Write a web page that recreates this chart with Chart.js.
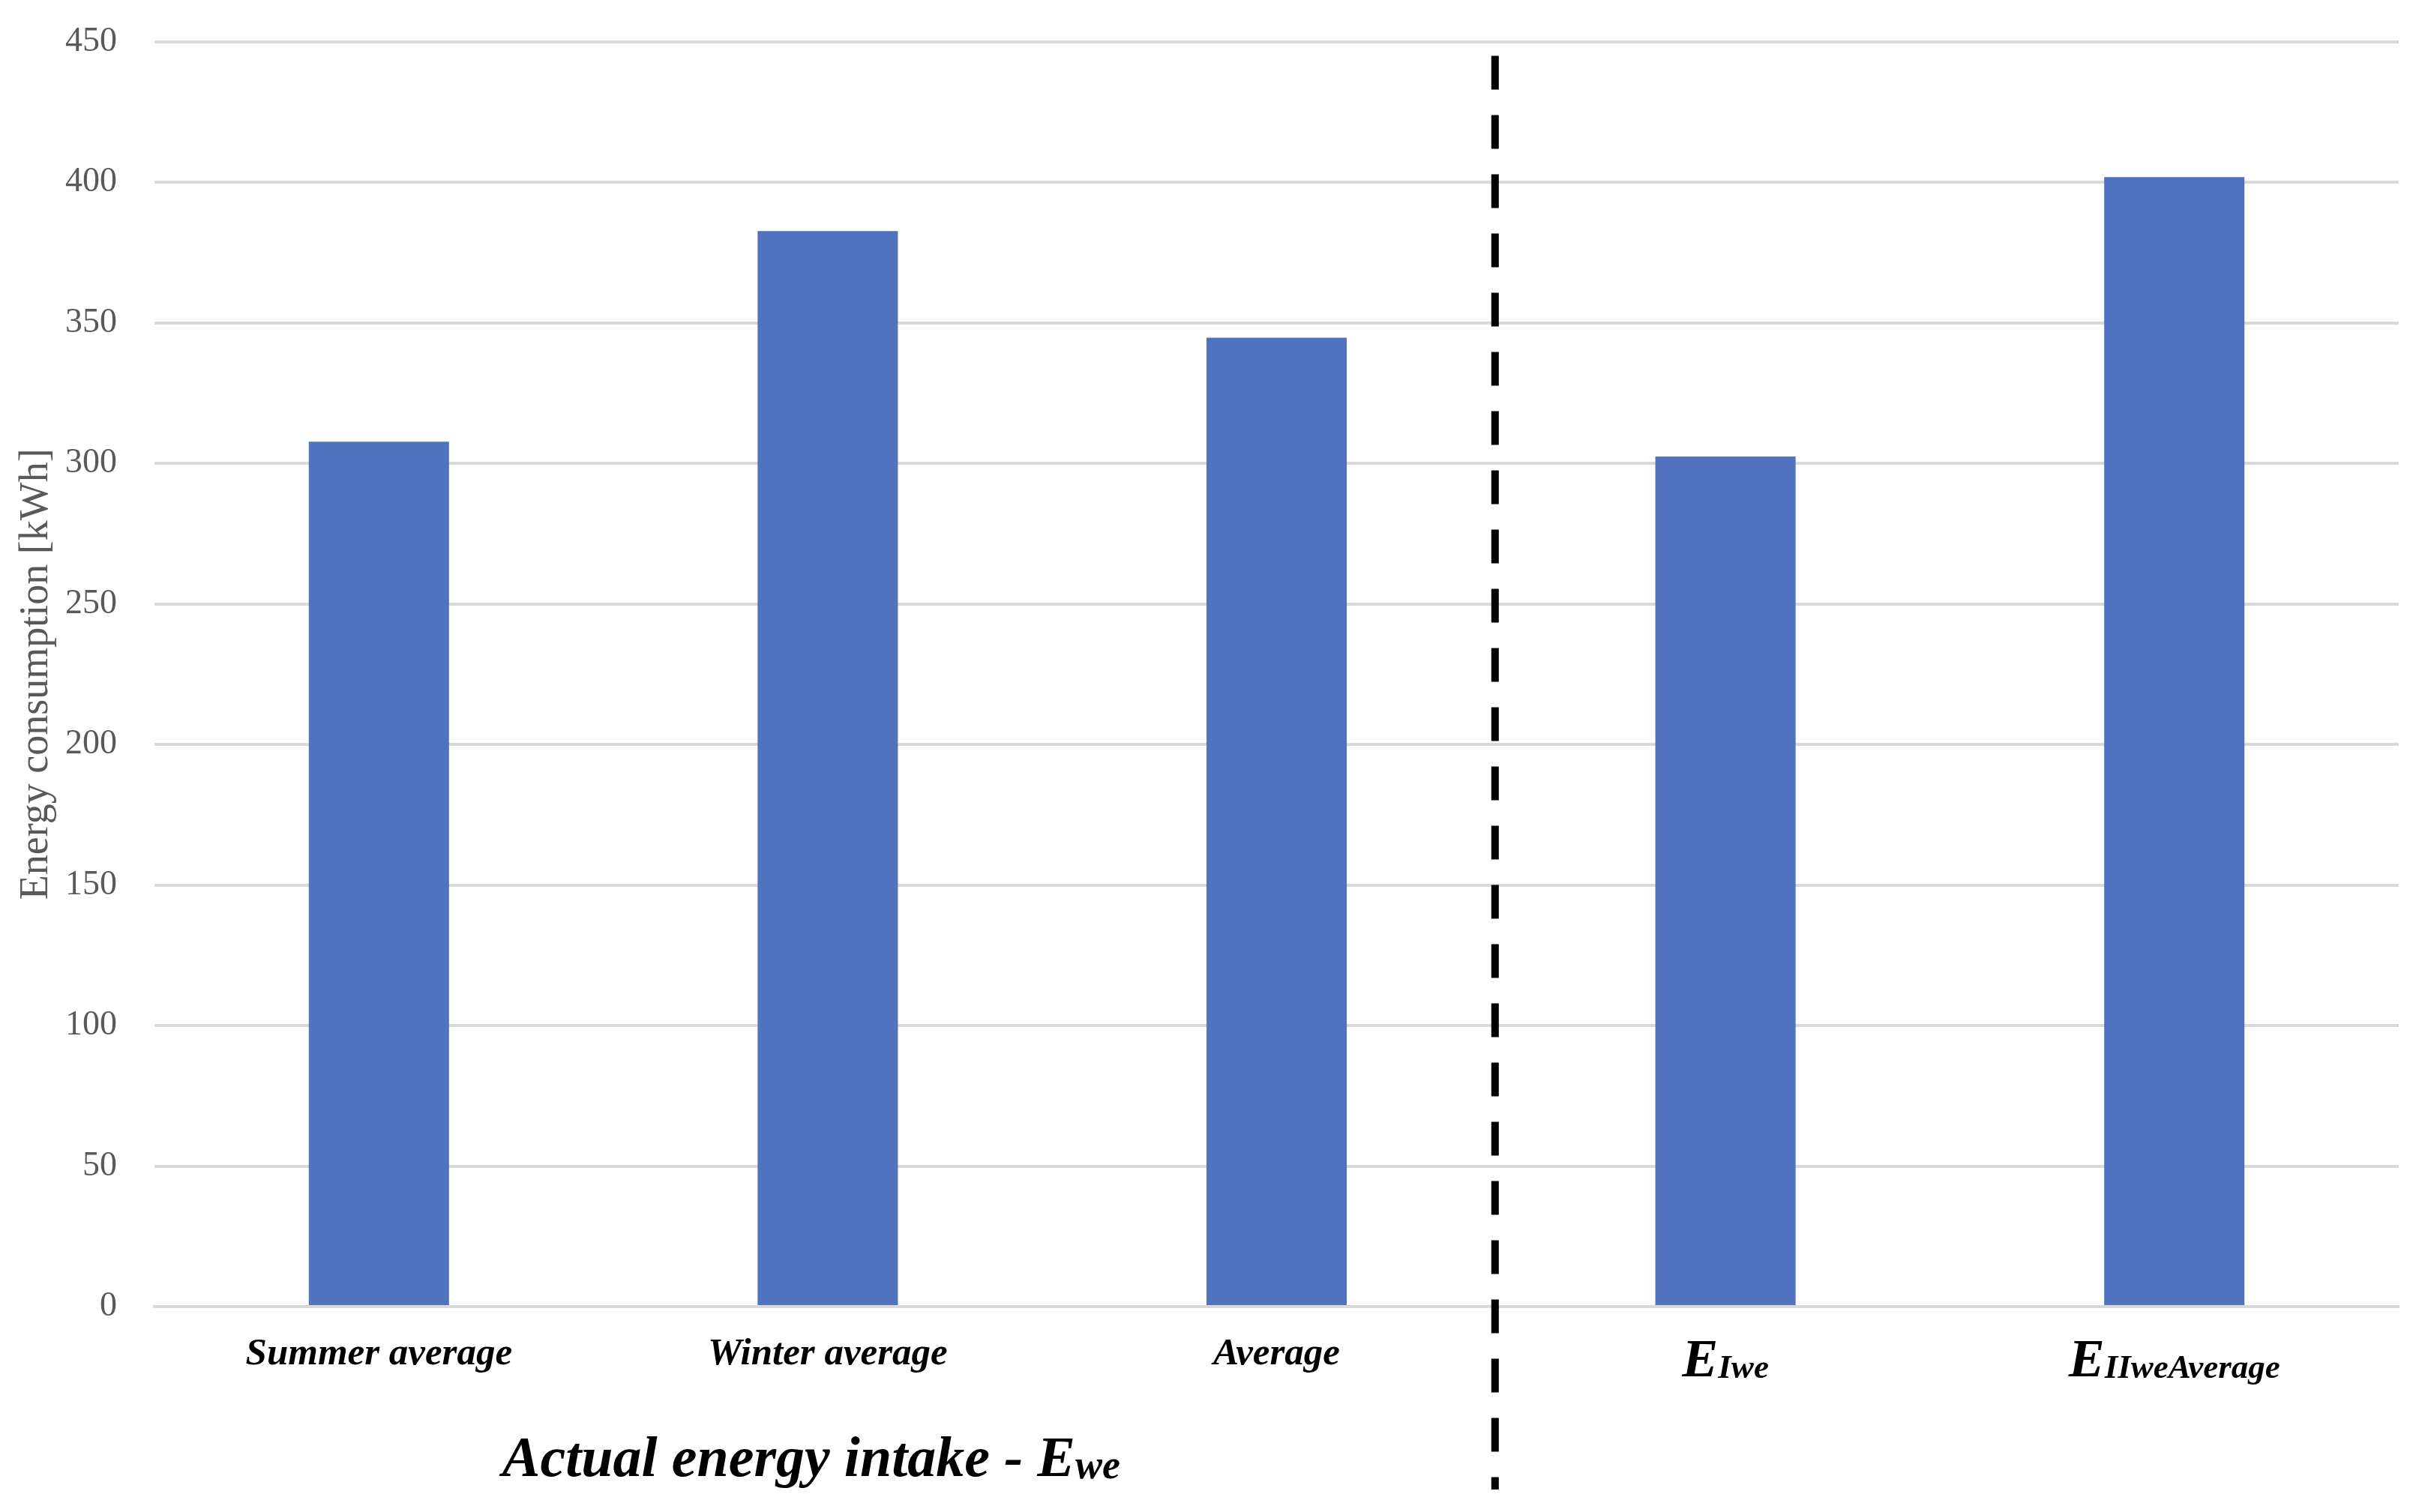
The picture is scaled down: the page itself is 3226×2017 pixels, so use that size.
<!DOCTYPE html>
<html>
<head>
<meta charset="utf-8">
<script src="https://cdn.jsdelivr.net/npm/chart.js@4.4.1/dist/chart.umd.min.js"></script>
<style>
  html, body { margin: 0; padding: 0; background: #fff; }
  #wrap { width: 3226px; height: 2017px; position: relative; }
</style>
</head>
<body>
<div id="wrap"><canvas id="myChart"></canvas></div>
<script>
// Підписи категорій: основна частина + нижній індекс
const categoryMain = ['Summer average', 'Winter average', 'Average', 'E', 'E'];
const categorySub = ['', '', '', 'Iwe', 'IIweAverage'];
const categories = categoryMain.map((m, i) => m + categorySub[i]);

// Значення (кВт·год)
const energyValues = [307.7, 382.6, 344.7, 302.4, 401.8];

// Поділки осі Y
const yMin = 0;
const yMax = 450;
const yStep = 50;

const serif = '"Liberation Serif", "Times New Roman", serif';

// Підписи під віссю X, роздільна лінія та загальний підпис
const extras = {
    id: 'extras',
    afterDraw(chart) {
        const {ctx, chartArea, scales} = chart;
        const x = scales.x;
        ctx.save();
        ctx.fillStyle = '#000';
        ctx.textBaseline = 'alphabetic';
        ctx.textAlign = 'left';

        categoryMain.forEach((main, i) => {
            const cx = x.getPixelForValue(i);
            const sub = categorySub[i];
            if (!sub) {
                ctx.font = 'italic bold 51px ' + serif;
                const w = ctx.measureText(main).width;
                ctx.fillText(main, cx - w / 2, chartArea.bottom + 77);
            } else {
                ctx.font = 'italic bold 72px ' + serif;
                const w1 = ctx.measureText(main).width;
                ctx.font = 'italic bold 45px ' + serif;
                const w2 = ctx.measureText(sub).width;
                const sx = cx - (w1 + w2) / 2;
                ctx.font = 'italic bold 72px ' + serif;
                ctx.fillText(main, sx, chartArea.bottom + 93);
                ctx.font = 'italic bold 45px ' + serif;
                ctx.fillText(sub, sx + w1, chartArea.bottom + 95);
            }
        });

        // Загальний підпис лівої групи
        const groupText = 'Actual energy intake - E';
        const groupSub = 'we';
        ctx.font = 'italic bold 76px ' + serif;
        const g1 = ctx.measureText(groupText).width;
        ctx.font = 'italic bold 54px ' + serif;
        const g2 = ctx.measureText(groupSub).width;
        const gc = (x.getPixelForValue(0) + x.getPixelForValue(2)) / 2 - 22;
        const gx = gc - (g1 + g2) / 2;
        ctx.font = 'italic bold 76px ' + serif;
        ctx.fillText(groupText, gx, chartArea.bottom + 226);
        ctx.font = 'italic bold 54px ' + serif;
        ctx.fillText(groupSub, gx + g1, chartArea.bottom + 229);

        // Пунктирна роздільна лінія
        const lx = (x.getPixelForValue(2) + x.getPixelForValue(3)) / 2 - 8;
        ctx.beginPath();
        ctx.strokeStyle = '#000';
        ctx.lineWidth = 10;
        ctx.setLineDash([45, 34]);
        ctx.moveTo(lx, chartArea.top + 19);
        ctx.lineTo(lx, chartArea.bottom + 244);
        ctx.stroke();
        ctx.restore();
    }
};

const ctx = document.getElementById('myChart').getContext('2d');

const myChart = new Chart(ctx, {
    type: 'bar',
    data: {
        labels: categories,
        datasets: [{
            label: 'Energy consumption [kWh]',
            data: energyValues,
            backgroundColor: '#5172BE',
            borderWidth: 0,
            categoryPercentage: 1,
            barPercentage: 0.3125,
        }]
    },
    options: {
        responsive: true,
        maintainAspectRatio: false,
        devicePixelRatio: 1,
        animation: false,
        layout: {
            padding: { top: 20, right: 27, left: 0, bottom: 0 }
        },
        plugins: {
            legend: { display: false },
            tooltip: { enabled: false },
        },
        scales: {
            x: {
                ticks: { display: false },
                grid: { display: false, drawTicks: false },
                border: { display: true, color: '#d9d9d9', width: 4 },
                afterFit(scale) { scale.height = 274; }
            },
            y: {
                min: yMin,
                max: yMax,
                ticks: {
                    stepSize: yStep,
                    padding: 28,
                    color: '#595959',
                    font: { family: serif, size: 46 }
                },
                grid: {
                    color: '#d9d9d9',
                    lineWidth: 4,
                    drawTicks: true,
                    tickLength: 22,
                    tickColor: 'rgba(0,0,0,0)'
                },
                border: { display: false },
                title: {
                    display: true,
                    text: 'Energy consumption [kWh]',
                    color: '#595959',
                    font: { family: serif, size: 54 },
                    padding: { top: 16, bottom: 0 }
                },
                afterFit(scale) { scale.width = 206; }
            }
        }
    },
    plugins: [extras],
});
</script>
</body>
</html>
